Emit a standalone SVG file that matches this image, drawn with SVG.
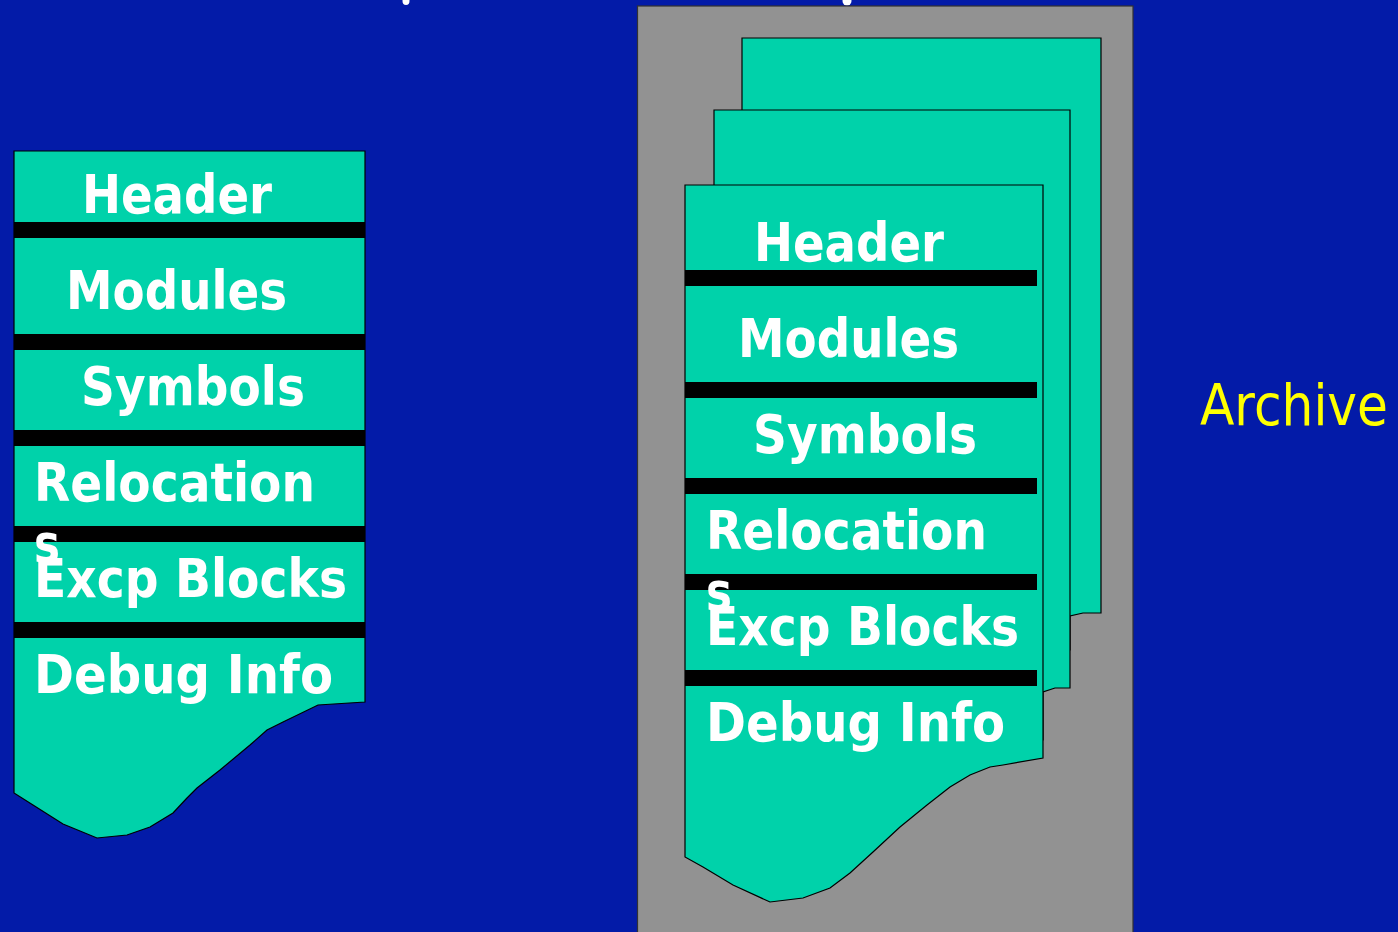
<svg xmlns="http://www.w3.org/2000/svg" width="1398" height="932" viewBox="0 0 1398 932">
<style>
.bg{fill:#031BA8}
.page{fill:#00D2AA;stroke:#000;stroke-width:1.2}
.bar{fill:#000}
.lbl{font-family:"DejaVu Sans","Liberation Sans",sans-serif;font-weight:bold;font-size:54px;fill:#fff}
.arch{font-family:"DejaVu Sans","Liberation Sans",sans-serif;font-size:57px;fill:#FFFF00}
</style>
<rect class="bg" x="0" y="0" width="1398" height="932"/>
<g id="title-fragments" fill="#fff">
<ellipse cx="406" cy="1" rx="3.5" ry="4"/>
<ellipse cx="847" cy="1" rx="4.5" ry="4.5"/>
</g>
<g id="object-file">
<path class="page" d="M14,151 H365 V702 L318,705 L283,722 L267,730 L250,745 L220,770 L197,788 L187,798 L173,813 L150,827 L127,835 L97,838 L63,824 L33,805 L14,793 Z"/>
<rect class="bar" x="14" y="222" width="351" height="16"/>
<rect class="bar" x="14" y="334" width="351" height="16"/>
<rect class="bar" x="14" y="430" width="351" height="16"/>
<rect class="bar" x="14" y="526" width="351" height="16"/>
<rect class="bar" x="14" y="622" width="351" height="16"/>
<text class="lbl" x="82" y="213" textLength="190" lengthAdjust="spacingAndGlyphs">Header</text>
<text class="lbl" x="66" y="309" textLength="221" lengthAdjust="spacingAndGlyphs">Modules</text>
<text class="lbl" x="81" y="405" textLength="224" lengthAdjust="spacingAndGlyphs">Symbols</text>
<text class="lbl" x="34" y="501" textLength="281" lengthAdjust="spacingAndGlyphs">Relocation</text>
<text class="lbl" x="34" y="562" textLength="26" lengthAdjust="spacingAndGlyphs">s</text>
<text class="lbl" x="34" y="597" textLength="313" lengthAdjust="spacingAndGlyphs">Excp Blocks</text>
<text class="lbl" x="34" y="693" textLength="299" lengthAdjust="spacingAndGlyphs">Debug Info</text>
</g>
<g id="archive">
<rect x="637.5" y="6" width="495.5" height="930" fill="#929292" stroke="#333" stroke-width="1.2"/>
<path class="page" d="M742,38 H1101 V613 H1083 L1070,616 V650 H742 Z"/>
<path class="page" d="M714,110 H1070 V688 H1055 L1043,692 V740 H714 Z"/>
<path class="page" d="M685,185 H1043 V758 L1003,765 L990,767 L970,775 L950,787 L927,805 L900,827 L873,852 L850,873 L830,888 L803,898 L770,902 L733,885 L703,867 L685,857 Z"/>
<rect class="bar" x="685" y="270" width="352" height="16"/>
<rect class="bar" x="685" y="382" width="352" height="16"/>
<rect class="bar" x="685" y="478" width="352" height="16"/>
<rect class="bar" x="685" y="574" width="352" height="16"/>
<rect class="bar" x="685" y="670" width="352" height="16"/>
<text class="lbl" x="754" y="261" textLength="190" lengthAdjust="spacingAndGlyphs">Header</text>
<text class="lbl" x="738" y="357" textLength="221" lengthAdjust="spacingAndGlyphs">Modules</text>
<text class="lbl" x="753" y="453" textLength="224" lengthAdjust="spacingAndGlyphs">Symbols</text>
<text class="lbl" x="706" y="549" textLength="281" lengthAdjust="spacingAndGlyphs">Relocation</text>
<text class="lbl" x="706" y="610" textLength="26" lengthAdjust="spacingAndGlyphs">s</text>
<text class="lbl" x="706" y="645" textLength="313" lengthAdjust="spacingAndGlyphs">Excp Blocks</text>
<text class="lbl" x="706" y="741" textLength="299" lengthAdjust="spacingAndGlyphs">Debug Info</text>
</g>
<g id="archive-label">
<text class="arch" x="1200" y="425" textLength="188" lengthAdjust="spacingAndGlyphs">Archive</text>
</g>
</svg>
